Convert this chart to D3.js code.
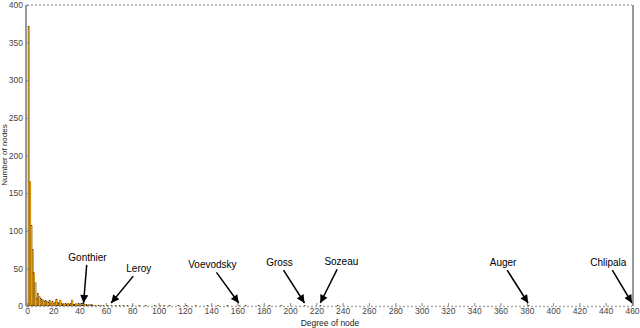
<!DOCTYPE html>
<html>
<head>
<meta charset="utf-8">
<script src="https://cdn.jsdelivr.net/npm/d3@7"></script>
<style>
  body { margin: 0; background: #fff; }
  text { font-family: "Liberation Sans", Arial, sans-serif; }
</style>
</head>
<body>
<div id="chart"></div>
<script>
// node degree -> number of nodes with that degree
const degrees = [1, 2, 3, 4, 5, 6, 7, 8, 9, 10, 11, 12, 13, 14, 15, 16, 17, 18, 19, 20,
    21, 22, 23, 24, 25, 26, 27, 28, 29, 30, 31, 32, 33, 34, 35, 36, 37, 38, 39, 40,
    41, 42, 43, 44, 45, 46, 47, 48, 49, 50,
    52, 54, 56, 58, 61, 64, 67, 70, 73, 76, 80, 85, 90, 97, 101, 104, 108, 115, 121, 128,
    137, 145, 152, 161, 166, 176, 184, 193, 211, 223, 236, 381, 460];
const counts = [372, 165, 107, 75, 44, 31, 10, 17, 13, 10, 9, 8, 6, 7, 6, 5, 8, 4, 6, 3,
    5, 9, 5, 3, 8, 4, 2, 3, 3, 2, 4, 2, 3, 8, 2, 2, 3, 1, 4, 2,
    3, 4, 3, 2, 2, 1, 2, 1, 2, 1,
    1, 1, 1, 1, 1, 1, 1, 1, 1, 1, 1, 1, 1, 1, 1, 1, 1, 1, 1, 1,
    1, 1, 1, 1, 1, 1, 1, 1, 1, 1, 1, 1, 1];

const xTicks = [0, 20, 40, 60, 80, 100, 120, 140, 160, 180, 200, 220, 240, 260, 280, 300, 320, 340, 360, 380, 400, 420, 440, 460];
const yTicks = [0, 50, 100, 150, 200, 250, 300, 350, 400];

// annotated authors: degree pointed at, label position (degree, count)
const annNames = ["Gonthier", "Leroy", "Voevodsky", "Gross", "Sozeau", "Auger", "Chlipala"];
const annDegree = [43, 64, 161, 211, 223, 381, 460];
const annTextDegree = [46, 85, 141, 192, 239, 362, 442];
const annTextCount = [60, 45, 50, 53, 54, 53, 53];

const width = 640, height = 328;
const margin = {top: 5, right: 8, bottom: 22, left: 27};

const svg = d3.select("#chart").append("svg")
    .attr("width", width)
    .attr("height", height);

const x = d3.scaleLinear().domain([0, 460]).range([margin.left, width - margin.right]);
const y = d3.scaleLinear().domain([0, 400]).range([height - margin.bottom, margin.top]);

const bins = degrees.map((d, i) => ({deg: d, n: counts[i]}));
const bw = x(1) - x(0);

// grey shadow behind each bar
svg.append("g").selectAll("rect")
    .data(bins).enter().append("rect")
    .attr("x", d => x(d.deg) - 0.7)
    .attr("y", d => y(d.n))
    .attr("width", bw)
    .attr("height", d => y(0) - y(d.n))
    .attr("fill", "#9a9a9a");

svg.append("g").selectAll("rect")
    .data(bins).enter().append("rect")
    .attr("x", d => x(d.deg))
    .attr("y", d => y(d.n))
    .attr("width", bw)
    .attr("height", d => y(0) - y(d.n))
    .attr("fill", "#f5a300")
    .attr("stroke", "#3a2600")
    .attr("stroke-width", 0.2);

// frame
svg.append("line")
    .attr("x1", x(0)).attr("x2", x(460))
    .attr("y1", y(400)).attr("y2", y(400))
    .attr("stroke", "#aaa").attr("stroke-width", 1.5)
    .attr("stroke-dasharray", "2,2");
svg.append("line")
    .attr("x1", x(0)).attr("x2", x(460))
    .attr("y1", y(0) + 0.5).attr("y2", y(0) + 0.5)
    .attr("stroke", "#aaa").attr("stroke-width", 1.5)
    .attr("stroke-dasharray", "2,2");
svg.append("line")
    .attr("x1", x(0) - 1).attr("x2", x(0) - 1)
    .attr("y1", y(0)).attr("y2", y(400))
    .attr("stroke", "#999").attr("stroke-width", 2);
svg.append("line")
    .attr("x1", x(460) + 1).attr("x2", x(460) + 1)
    .attr("y1", y(0)).attr("y2", y(400))
    .attr("stroke", "#999").attr("stroke-width", 2);

// axes
const xAxis = d3.axisBottom(x).tickValues(xTicks).tickSizeInner(-3).tickSizeOuter(0).tickPadding(2);
const gx = svg.append("g")
    .attr("transform", "translate(0," + y(0) + ")")
    .call(xAxis);
gx.select(".domain").remove();
gx.selectAll("line").attr("stroke", "#888");
gx.selectAll("text").attr("font-size", 8.5).attr("fill", "#444");

const yAxis = d3.axisLeft(y).tickValues(yTicks).tickSizeInner(-3).tickSizeOuter(0).tickPadding(3);
const gy = svg.append("g")
    .attr("transform", "translate(" + (x(0) - 1) + ",0)")
    .call(yAxis);
gy.select(".domain").remove();
gy.selectAll("line").attr("stroke", "#888");
gy.selectAll("text").attr("font-size", 8.5).attr("fill", "#444");

svg.append("text")
    .attr("x", 330).attr("y", 326)
    .attr("text-anchor", "middle")
    .attr("font-size", 8.5).attr("fill", "#222")
    .text("Degree of node");
svg.append("text")
    .attr("transform", "translate(7,155) rotate(-90)")
    .attr("text-anchor", "middle")
    .attr("font-size", 8).attr("fill", "#222")
    .text("Number of nodes");

// annotations
svg.append("defs").append("marker")
    .attr("id", "head")
    .attr("markerUnits", "userSpaceOnUse")
    .attr("viewBox", "0 0 10 10")
    .attr("refX", 10).attr("refY", 5)
    .attr("markerWidth", 9).attr("markerHeight", 8)
    .attr("orient", "auto")
    .append("path")
    .attr("d", "M0,0L10,5L0,10z")
    .attr("fill", "#000");

annNames.forEach((name, i) => {
    const tx = x(annTextDegree[i]), ty = y(annTextCount[i]);
    const px = x(annDegree[i]), py = y(4);
    const sx = tx + Math.max(-7, Math.min(4, (px - tx) * 0.2));
    svg.append("line")
        .attr("x1", sx).attr("y1", ty + 4)
        .attr("x2", px).attr("y2", py)
        .attr("stroke", "#000").attr("stroke-width", 1.5)
        .attr("marker-end", "url(#head)");
    svg.append("text")
        .attr("x", tx).attr("y", ty)
        .attr("text-anchor", "middle")
        .attr("font-size", 10).attr("fill", "#000")
        .text(name);
});
</script>
</body>
</html>
